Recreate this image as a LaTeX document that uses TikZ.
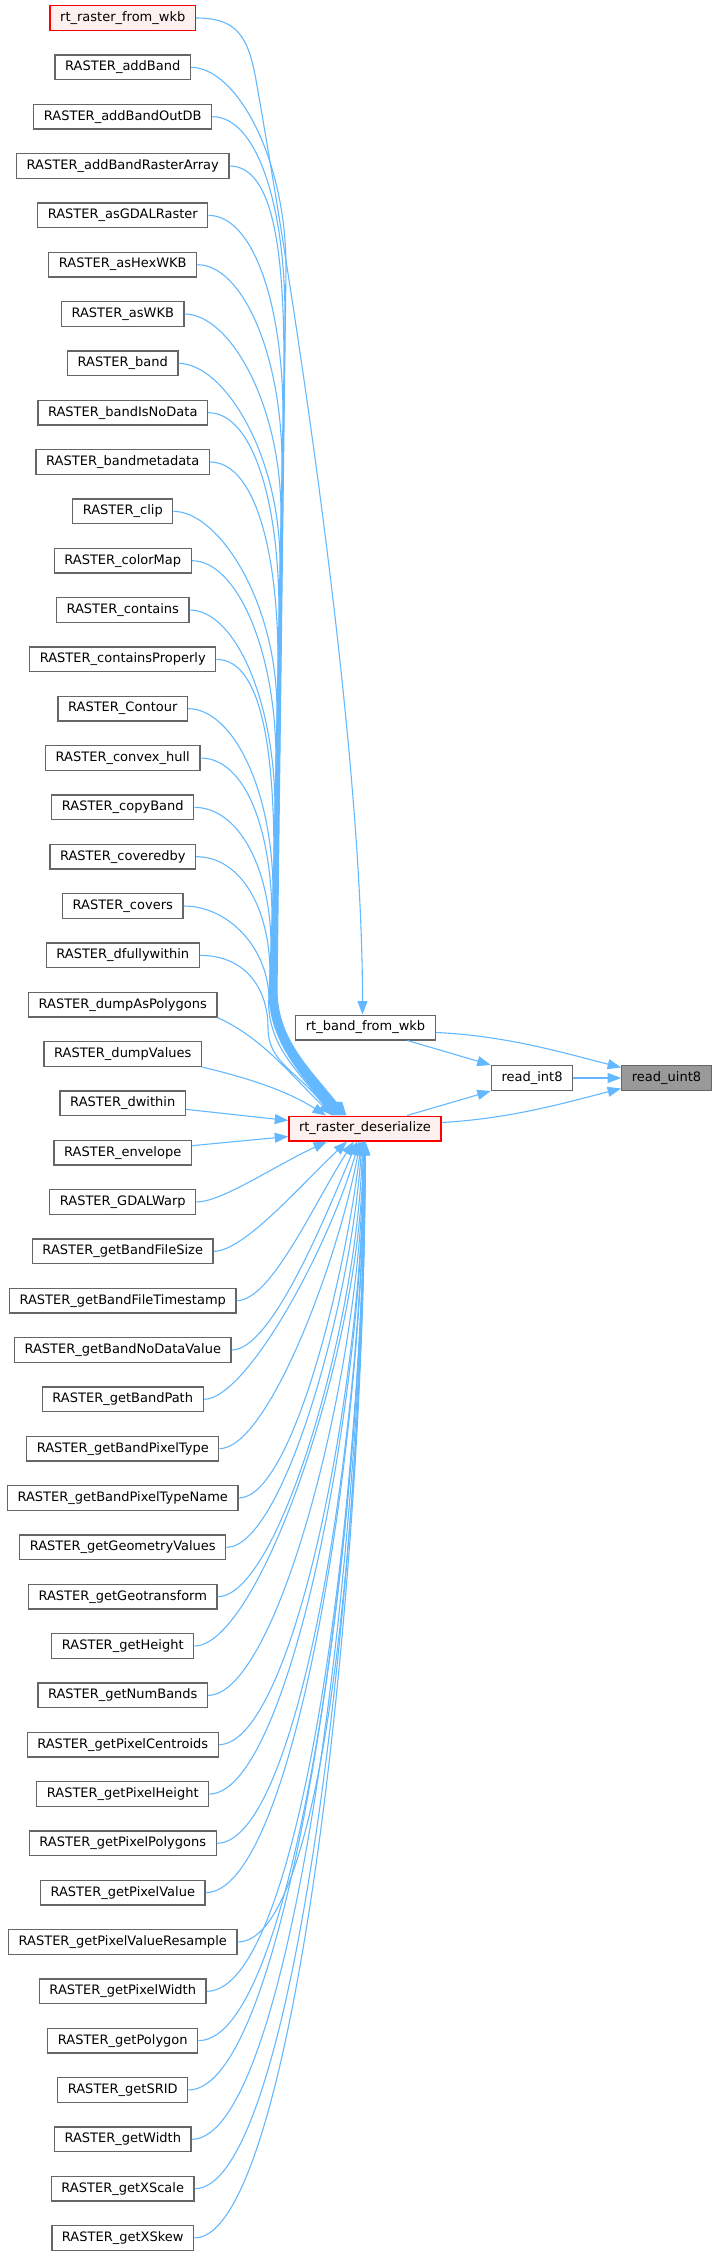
\documentclass[tikz,border=0pt]{standalone}
\usepackage{fontspec}
\setmainfont{DejaVu Sans}
\usepackage{xcolor}
\usepackage{tikz}
\usetikzlibrary{matrix,arrows.meta}
\definecolor{callblue}{HTML}{63B8FF}
\definecolor{framegray}{HTML}{666666}
\definecolor{hotfill}{HTML}{FFF0F0}
\definecolor{selfill}{HTML}{999999}

\begin{document}
\begin{tikzpicture}[x=1pt,y=-1pt,
		fn/.style={draw=framegray,line width=1.3pt,fill=white,minimum height=24.7pt,inner xsep=10.1pt,inner ysep=0pt,font=\fontsize{13}{15}\selectfont},
		hot/.style={fn,draw=red,fill=hotfill},
		call/.style={draw=callblue,line width=1.1pt,-{Triangle[length=13.5pt,width=10pt]}}]
		\useasboundingbox (0,0) rectangle (717,2256);
		\matrix (M) [matrix of nodes, nodes={fn,anchor=center}, row sep=23.333pt, inner sep=0pt] at (122.75,1128) {
			|[hot]| rt\_raster\_from\_wkb \\
			RASTER\_addBand \\
			RASTER\_addBandOutDB \\
			RASTER\_addBandRasterArray \\
			RASTER\_asGDALRaster \\
			RASTER\_asHexWKB \\
			RASTER\_asWKB \\
			RASTER\_band \\
			RASTER\_bandIsNoData \\
			RASTER\_bandmetadata \\
			RASTER\_clip \\
			RASTER\_colorMap \\
			RASTER\_contains \\
			RASTER\_containsProperly \\
			RASTER\_Contour \\
			RASTER\_convex\_hull \\
			RASTER\_copyBand \\
			RASTER\_coveredby \\
			RASTER\_covers \\
			RASTER\_dfullywithin \\
			RASTER\_dumpAsPolygons \\
			RASTER\_dumpValues \\
			RASTER\_dwithin \\
			RASTER\_envelope \\
			RASTER\_GDALWarp \\
			RASTER\_getBandFileSize \\
			RASTER\_getBandFileTimestamp \\
			RASTER\_getBandNoDataValue \\
			RASTER\_getBandPath \\
			RASTER\_getBandPixelType \\
			RASTER\_getBandPixelTypeName \\
			RASTER\_getGeometryValues \\
			RASTER\_getGeotransform \\
			RASTER\_getHeight \\
			RASTER\_getNumBands \\
			RASTER\_getPixelCentroids \\
			RASTER\_getPixelHeight \\
			RASTER\_getPixelPolygons \\
			RASTER\_getPixelValue \\
			RASTER\_getPixelValueResample \\
			RASTER\_getPixelWidth \\
			RASTER\_getPolygon \\
			RASTER\_getSRID \\
			RASTER\_getWidth \\
			RASTER\_getXScale \\
			RASTER\_getXSkew \\
		};
		\node[fn] (band) at (365.5,1027.5) {rt\_band\_from\_wkb};
		\node[hot] (deser) at (365,1128.5) {rt\_raster\_deserialize};
		\node[fn] (rint) at (532,1078) {read\_int8};
		\node[fn,fill=selfill] (ruint) at (666.5,1078) {read\_uint8};
		\draw[call] (M-1-1.east) .. controls +(40,0) and +(-8,-45) .. (256,80) .. controls +(44,250) and +(0,-265) .. ([xshift=-3pt]band.north);
		\draw[call] ([yshift=-5pt]band.east) .. controls +(70,3) and +(-55,-14) .. (ruint.167);
		\draw[call] ([xshift=42pt]band.south) -- (rint.north west);
		\draw[call] (rint) -- (ruint);
		\draw[call] ([xshift=42pt]deser.north) -- (rint.south west);
		\draw[call] ([yshift=6pt]deser.east) .. controls +(70,-4) and +(-55,14) .. (ruint.193);
		\foreach \i in {2,...,20}{
			\pgfmathsetmacro\yy{18+49.333*(\i-1)}
			\pgfmathsetmacro\hh{min(200,0.45*(1116-\yy))}
			\pgfmathsetmacro\hc{-0.55*\hh}
			\pgfmathsetmacro\ym{\yy+\hh}
			\pgfmathsetmacro\yc{max(\ym,990)}
			\pgfmathsetmacro\kk{0.4*(1116-\yc)}
			\pgfmathsetmacro\xb{268+(20-\i)}
			\pgfmathsetmacro\xc{268+0.5*(20-\i)}
			\pgfmathsetmacro\dx{-33+0.8*(20-\i)}
			\draw[call] (M-\i-1.east) .. controls +(45,0) and +(0,\hc) .. (\xb,\ym) -- (\xc,\yc) .. controls +(0,\kk) and +(-35,-45) .. ([xshift=\dx pt]deser.north);
		}
		\draw[call] (M-21-1.south east) .. controls +(45,20) and +(-40,-38) .. ([xshift=-32pt]deser.north);
		\draw[call] (M-22-1.south east) .. controls +(50,12) and +(-38,-24) .. ([xshift=-39pt]deser.north);
		\draw[call] ([yshift=-6pt]M-23-1.east) -- ([yshift=8pt]deser.west);
		\draw[call] ([yshift=7pt]M-24-1.east) -- ([yshift=-8pt]deser.west);
		\foreach \i in {25,...,46}{
			\pgfmathsetmacro\dd{18+49.333*(\i-1)-1141}
			\pgfmathsetmacro\dx{2-40/(\i-24)}
			\pgfmathsetmacro\aa{min(100,20+0.09*\dd)}
			\pgfmathsetmacro\cc{-max(0,60-0.12*\dd)}
			\pgfmathsetmacro\bb{0.4*\dd}
			\draw[call] (M-\i-1.east) .. controls +(\aa,0) and +(\cc,\bb) .. ([xshift=\dx pt]deser.south);
		}
	\end{tikzpicture}
\end{document}
